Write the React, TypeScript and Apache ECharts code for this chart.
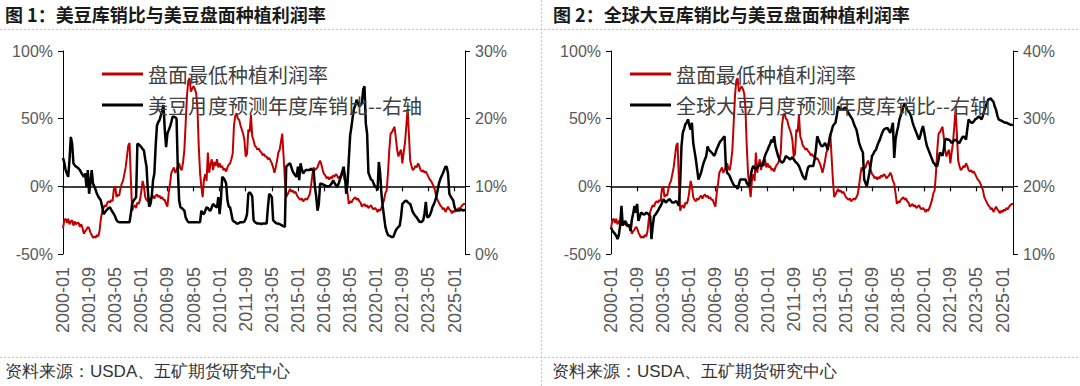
import React, { useEffect, useRef } from "react";
import * as echarts from "echarts";

// ---------- data ----------
const months: string[] = [];
for (let y = 2000; y <= 2025; y++) {
  for (let m = 1; m <= 12; m++) {
    if (y === 2025 && m > 9) break;
    months.push(`${y}-${m < 10 ? "0" + m : m}`);
  }
}

const titles = ["图 1：美豆库销比与美豆盘面种植利润率", "图 2：全球大豆库销比与美豆盘面种植利润率"];
const redName = "盘面最低种植利润率";
const blackNames = ["美豆月度预测年度库销比--右轴", "全球大豆月度预测年度库销比--右轴"];
const sourceText = "资料来源：USDA、五矿期货研究中心";

const leftTicks = [-50, 0, 50, 100];
const rightTicksUS = [0, 10, 20, 30];
const rightTicksWorld = [10, 20, 30, 40];

// 盘面最低种植利润率 (%) monthly 2000-01 .. 2025-09
const profitRate = [
  -31, -25, -24, -27, -24, -28, -26, -25, -29, -26, -28, -27,
  -27, -30, -28, -31, -35, -33, -32, -30, -31, -34, -36, -38,
  -37, -38, -36, -37, -33, -24, -19, -16, -14, -15, -12, -11,
  -12, -10, -11, -2, 0, -8, -6, -7, -2, 2, 4, 9,
  14, 22, 30, 32, 5, -18, -15, -14, -16, -12, -13, -10,
  -4, 4, 0, -8, -10, -11, -9, -10, -8, -7, -9, -7,
  -6, -8, -7, -9, -8, -10, -10, -13, -15, -5, 2, 10,
  12, 14, 10, 12, 15, 17, 13, 12, 18, 27, 47, 67,
  78, 80, 70, 72, 74, 72, 69, 58, 30, 10, 0, -8,
  5, 9, 4, 25, 10, 16, 20, 12, 18, 15, 20, 14,
  17, 14, 15, 12, 13, 11, 14, 16, 17, 20, 24, 45,
  52, 54, 50, 49, 45, 42, 39, 34, 22, 24, 42, 40,
  53, 37, 34, 30, 29, 27, 28, 26, 25, 23, 24, 22,
  22, 20, 21, 19, 17, 14, 10, 14, 19, 25, 27, 33,
  39, 22, 5, -8, -6, -4, -2, -4, -3, -5, -4, -6,
  -8, -9, -10, -9, -11, -10, -9, -10, -8, -6, 0, 8,
  14, 12, 13, 14, 17, 19, 16, 12, 9, 8, 6, 7,
  5, 7, 6, 8, 7, 9, 8, 6, 7, 8, 10, 8,
  4, 2, -5, -13, -11, -12, -10, -9, -8, -10, -9, -11,
  -12, -15, -14, -13, -15, -14, -16, -15, -14, -16, -17, -16,
  -17, -19, -17, -18, -16, -13, -10, -5, -3, 10, 27, 39,
  40, 42, 44, 36, 27, 22, 25, 27, 17, 25, 32, 44,
  57, 39, 19, 15, 12, 13, 15, 14, 17, 15, 12, 11,
  12, 10, 11, 9, 7, 5, 4, 2, 0, -3, -8, -10,
  -12, -14, -15, -17, -16, -19, -17, -15, -17, -18, -20, -18,
  -19, -17, -18, -16, -17, -15, -14, -13, -13,
];

// 美豆月度预测年度库销比 (%)
const usStocksToUse = [
  14.2, 13.5, 12.4, 11.9, 11.4, 14, 17.3, 16.3, 13.4, 13.1, 12.9, 12.8,
  12.6, 12.4, 12, 11.7, 11.4, 11.9, 9.9, 12.4, 8.9, 10.5, 12.4, 10.4,
  10, 9.5, 8.9, 8.5, 8.2, 7.9, 7, 5.9, 6.1, 6.4, 6.6, 6.8,
  6.9, 6.5, 6.2, 5.9, 5.5, 5, 4.8, 4.7, 4.7, 4.7, 4.7, 4.7,
  4.7, 4.7, 4.7, 4.7, 6, 7.4, 7.9, 8.1, 8.4, 16.3, 16.2, 16,
  15.8, 15.5, 15.3, 14, 12.9, 9.4, 7, 7.4, 8.5, 10.9, 11.9, 16,
  19, 19.5, 19.8, 20.5, 21.2, 22, 18.3, 15.8, 17.8, 18.3, 18.8, 19.5,
  20.3, 20.3, 20.2, 20, 12.4, 7.9, 6.9, 6.8, 6.6, 6.4, 5.4, 5,
  4.7, 4.7, 4.7, 4.7, 4.7, 4.7, 4.7, 4.7, 4.7, 4.7, 6.4, 6,
  5.9, 6.4, 6.9, 6.8, 6.5, 6.4, 6.9, 7.4, 7.2, 7, 6.9, 8.4,
  5.9, 8, 11.4, 11.2, 10.9, 10.4, 7.9, 7, 6.9, 6, 5, 4.8,
  4.7, 4.5, 4.5, 4.6, 4.7, 4.7, 4.7, 4.8, 5.2, 5.9, 8.9, 9.1,
  8.9, 8.5, 5, 4.7, 4.6, 4.5, 4.5, 4.5, 4.4, 4.5, 4.5, 4.5,
  4.5, 6.9, 8.9, 8.7, 8.4, 5, 4.8, 4.6, 4.5, 4.5, 4.4, 4.3,
  4.2, 4.1, 4, 12.9, 13.1, 13.3, 13.4, 12.8, 12.2, 11.9, 11.6, 11.4,
  12.9, 10.9, 13.4, 12.5, 11.9, 12.2, 12.4, 12.4, 12.4, 12.4, 12.6, 12.4,
  12.4, 10, 8.5, 6.4, 7.4, 10.4, 10.4, 10.3, 10.2, 10.1, 10, 10,
  10, 10.2, 10.5, 10.9, 10.5, 10.2, 9.9, 10.3, 10.9, 11.5, 12.2, 12.9,
  11.5, 8.9, 10.4, 14, 17.5, 18.8, 20.3, 21.5, 22, 22.8, 22.3, 21.8,
  22, 22.3, 24.3, 24.8, 19.3, 17.8, 12, 11.5, 11, 10.9, 10.4, 10,
  9.9, 9.4, 13.6, 11.9, 8.9, 7, 5.5, 4, 3.3, 2.8, 2.7, 2.6,
  2.5, 2.5, 3, 3.5, 3.8, 4, 4.2, 5.5, 7.4, 7.6, 7.8, 7.9,
  7.7, 7.5, 7.4, 6.8, 6.2, 5.9, 5.6, 5.4, 5.1, 4.8, 4.7, 4.8,
  5, 6, 7.7, 5.4, 5.5, 5.7, 6.2, 6.9, 7.3, 7.8, 8.4, 9.4,
  10.4, 11, 11.5, 11.9, 12.4, 12.9, 12.9, 11.9, 8.9, 8.5, 8.2, 7.9,
  6.9, 6.5, 6.4, 6.5, 6.4, 6.6, 6.5, 6.4, 6.6,
];

// 全球大豆月度预测年度库销比 (%)
const worldStocksToUse = [
  13.9, 13.5, 13.2, 13, 12.7, 12.2, 12.8, 14.2, 17.1, 14.2, 14.6, 14.9,
  14.2, 14.2, 14.2, 13.4, 15.1, 16, 17.1, 16.1, 17.4, 14.9, 15.5, 16.1,
  16, 15.8, 15.9, 16.1, 16, 15.8, 15.6, 12.2, 14.2, 15.6, 15.8, 16.1,
  16.4, 16.8, 17.1, 17.5, 18.1, 17.9, 17.6, 17.8, 18, 18.1, 17.8, 17.6,
  17.6, 17.7, 17.8, 17.5, 17.1, 20.5, 25.9, 27.9, 28.5, 29.2, 29.4, 29.9,
  29, 28.4, 29.4, 26.4, 25.2, 24, 22.5, 21, 21.5, 22, 22.8, 23.5,
  24, 24.5, 25.9, 25.4, 25.2, 25, 24.8, 24.5, 24.9, 25.5, 25.9, 26.4,
  26.7, 26.9, 27.2, 27.4, 23, 22, 21.8, 21.5, 21, 20.6, 20.2, 20,
  20, 19.6, 20.3, 21, 21, 21, 21, 21, 20.5, 20.2, 20, 21.5,
  22.5, 23, 22.7, 22.5, 22.8, 23, 23.2, 23.1, 23, 23.8, 24.5, 25,
  25.4, 25.9, 26.3, 26.9, 26.5, 27.4, 25.9, 25.2, 24.5, 24, 23.7, 23.5,
  23.6, 24, 24.5, 24.3, 24.2, 24, 24.1, 24.3, 24, 23.7, 23.5, 23.3,
  23, 22.5, 22, 21.5, 21.2, 21, 22, 22.8, 23, 23, 23, 23,
  24, 25.4, 27.4, 26.9, 26.4, 26, 25.9, 26.1, 26.4, 26, 25.4, 26.5,
  27.5, 28.2, 28.9, 29.2, 29.4, 30.5, 31.8, 31.6, 31.4, 31.3, 31.4, 31.6,
  31.6, 31.2, 30.8, 30.5, 30.2, 29.9, 29.3, 28.8, 28.4, 27.5, 26.5, 25.9,
  25.4, 25, 21, 20.5, 20, 21, 22, 23.2, 24.5, 24.8, 25.2, 25.4,
  26, 26.5, 26.9, 27.5, 28, 28.4, 28.5, 28.6, 28.6, 28.2, 27.9, 28.6,
  29.4, 24.2, 26.9, 28, 28.8, 29.9, 30.5, 31, 31.8, 32.3, 31.8, 31.3,
  31, 30.8, 30.3, 29.5, 28.9, 28.4, 27.9, 27.4, 26.9, 27.5, 28.3, 28.9,
  28, 26.9, 26, 25.5, 25, 24.5, 24, 23.5, 23.3, 23, 23, 24,
  25, 24.8, 24.5, 25.5, 26.9, 27, 26.9, 26.9, 26.7, 26.4, 26.6, 26.8,
  26.9, 26.7, 26.5, 26.4, 26.8, 27.2, 27.4, 27.2, 26.9, 28.5, 29.9, 29.6,
  29.4, 29.4, 29.6, 29.9, 30, 30.2, 30.3, 30.1, 29.9, 30.5, 31.2, 31.8,
  32.3, 32.8, 32.9, 33, 32.7, 32.5, 31.8, 31.3, 30.5, 29.9, 29.8, 29.7,
  29.6, 29.5, 29.4, 29.4, 29.3, 29.2, 29.1, 29.1, 29,
];

// ---------- styling ----------
const LATIN = "'Liberation Sans', Arial, sans-serif";
const CJK = "'Noto Sans CJK SC', 'Liberation Sans', sans-serif";
const RED = "#C00000";
const BLACK = "#000000";
const LABEL = "#595959";

function buildOption() {
  const panels = [
    { left: 63, legendLeft: 97, black: usStocksToUse, rt: rightTicksUS, blackName: blackNames[0] },
    { left: 611, legendLeft: 625, black: worldStocksToUse, rt: rightTicksWorld, blackName: blackNames[1] },
  ];
  const grid: any[] = [];
  const xAxis: any[] = [];
  const yAxis: any[] = [];
  const series: any[] = [];
  const legend: any[] = [];
  const title: any[] = [];

  panels.forEach((p, i) => {
    grid.push({ left: p.left, top: 51, width: 402, height: 203, containLabel: false });
    xAxis.push({
      type: "category",
      gridIndex: i,
      data: months,
      boundaryGap: false,
      axisLine: { show: true, onZero: true, onZeroAxisIndex: 2 * i, lineStyle: { color: "#000", width: 1.5 } },
      axisTick: { show: true, interval: 19, length: 5, inside: false, lineStyle: { color: "#000", width: 1.2 } },
      axisLabel: { show: false },
      splitLine: { show: false },
    });
    xAxis.push({
      type: "category",
      gridIndex: i,
      data: months,
      boundaryGap: false,
      position: "bottom",
      axisLine: { show: false, onZero: false },
      axisTick: { show: false },
      axisLabel: {
        interval: 19,
        rotate: 90,
        margin: 13,
        fontSize: 18,
        color: LABEL,
        fontFamily: LATIN,
      },
      splitLine: { show: false },
    });
    yAxis.push({
      type: "value",
      gridIndex: i,
      position: "left",
      min: leftTicks[0],
      max: leftTicks[leftTicks.length - 1],
      interval: 50,
      axisLine: { show: true, lineStyle: { color: "#000", width: 1 } },
      axisTick: { show: true, length: 5, inside: false, lineStyle: { color: "#000" } },
      axisLabel: { formatter: "{value}%", fontSize: 16, color: LABEL, margin: 10, fontFamily: LATIN },
      splitLine: { show: false },
    });
    yAxis.push({
      type: "value",
      gridIndex: i,
      position: "right",
      min: p.rt[0],
      max: p.rt[p.rt.length - 1],
      interval: 10,
      axisLine: { show: true, lineStyle: { color: "#000", width: 1 } },
      axisTick: { show: true, length: 5, inside: false, lineStyle: { color: "#000" } },
      axisLabel: { formatter: "{value}%", fontSize: 16, color: LABEL, margin: 10, fontFamily: LATIN },
      splitLine: { show: false },
    });
    series.push({
      name: redName,
      type: "line",
      xAxisIndex: 2 * i,
      yAxisIndex: 2 * i,
      data: profitRate,
      showSymbol: false,
      symbol: "none",
      lineStyle: { color: RED, width: 2 },
      itemStyle: { color: RED },
      z: 2,
    });
    series.push({
      name: p.blackName,
      type: "line",
      xAxisIndex: 2 * i,
      yAxisIndex: 2 * i + 1,
      data: p.black,
      showSymbol: false,
      symbol: "none",
      lineStyle: { color: BLACK, width: 2.5 },
      itemStyle: { color: BLACK },
      z: 3,
    });
    legend.push({
      orient: "vertical",
      left: p.legendLeft,
      top: 59,
      itemGap: 11,
      itemWidth: 41,
      itemHeight: 3,
      icon: "rect",
      selectedMode: false,
      data: [redName, p.blackName],
      textStyle: { fontSize: 20, color: "#404040", fontFamily: CJK, lineHeight: 20 },
    });
    title.push({
      text: titles[i],
      left: i === 0 ? 5 : 553,
      top: 3,
      padding: 0,
      textStyle: { fontSize: 18, fontWeight: "bold", color: "#1a1a1a", fontFamily: CJK, lineHeight: 22 },
    });
  });

  const dash = { stroke: "#c4c4c4", lineWidth: 1, lineDash: [2, 2] };
  const graphic: any[] = [
    { type: "line", shape: { x1: 0, y1: 29.5, x2: 1080, y2: 29.5 }, style: dash, silent: true },
    { type: "line", shape: { x1: 0, y1: 357.5, x2: 1080, y2: 357.5 }, style: dash, silent: true },
    { type: "line", shape: { x1: 541.5, y1: 0, x2: 541.5, y2: 386 }, style: dash, silent: true },
    {
      type: "text",
      left: 5,
      top: 363,
      style: { text: sourceText, fontSize: 17, fill: "#333", font: `17px ${CJK}` },
      silent: true,
    },
    {
      type: "text",
      left: 552,
      top: 363,
      style: { text: sourceText, fontSize: 17, fill: "#333", font: `17px ${CJK}` },
      silent: true,
    },
  ];

  return {
    animation: false,
    backgroundColor: "#ffffff",
    title,
    grid,
    xAxis,
    yAxis,
    series,
    legend,
    graphic,
  };
}

export default function App() {
  const ref = useRef<HTMLDivElement>(null);
  useEffect(() => {
    if (!ref.current) return;
    const chart = echarts.init(ref.current, undefined, { renderer: "svg" });
    chart.setOption(buildOption() as any);
    return () => {
      chart.dispose();
    };
  }, []);
  return (
    <div
      ref={ref}
      style={{ position: "absolute", left: 0, top: 0, width: 1080, height: 386, background: "#fff" }}
    />
  );
}
